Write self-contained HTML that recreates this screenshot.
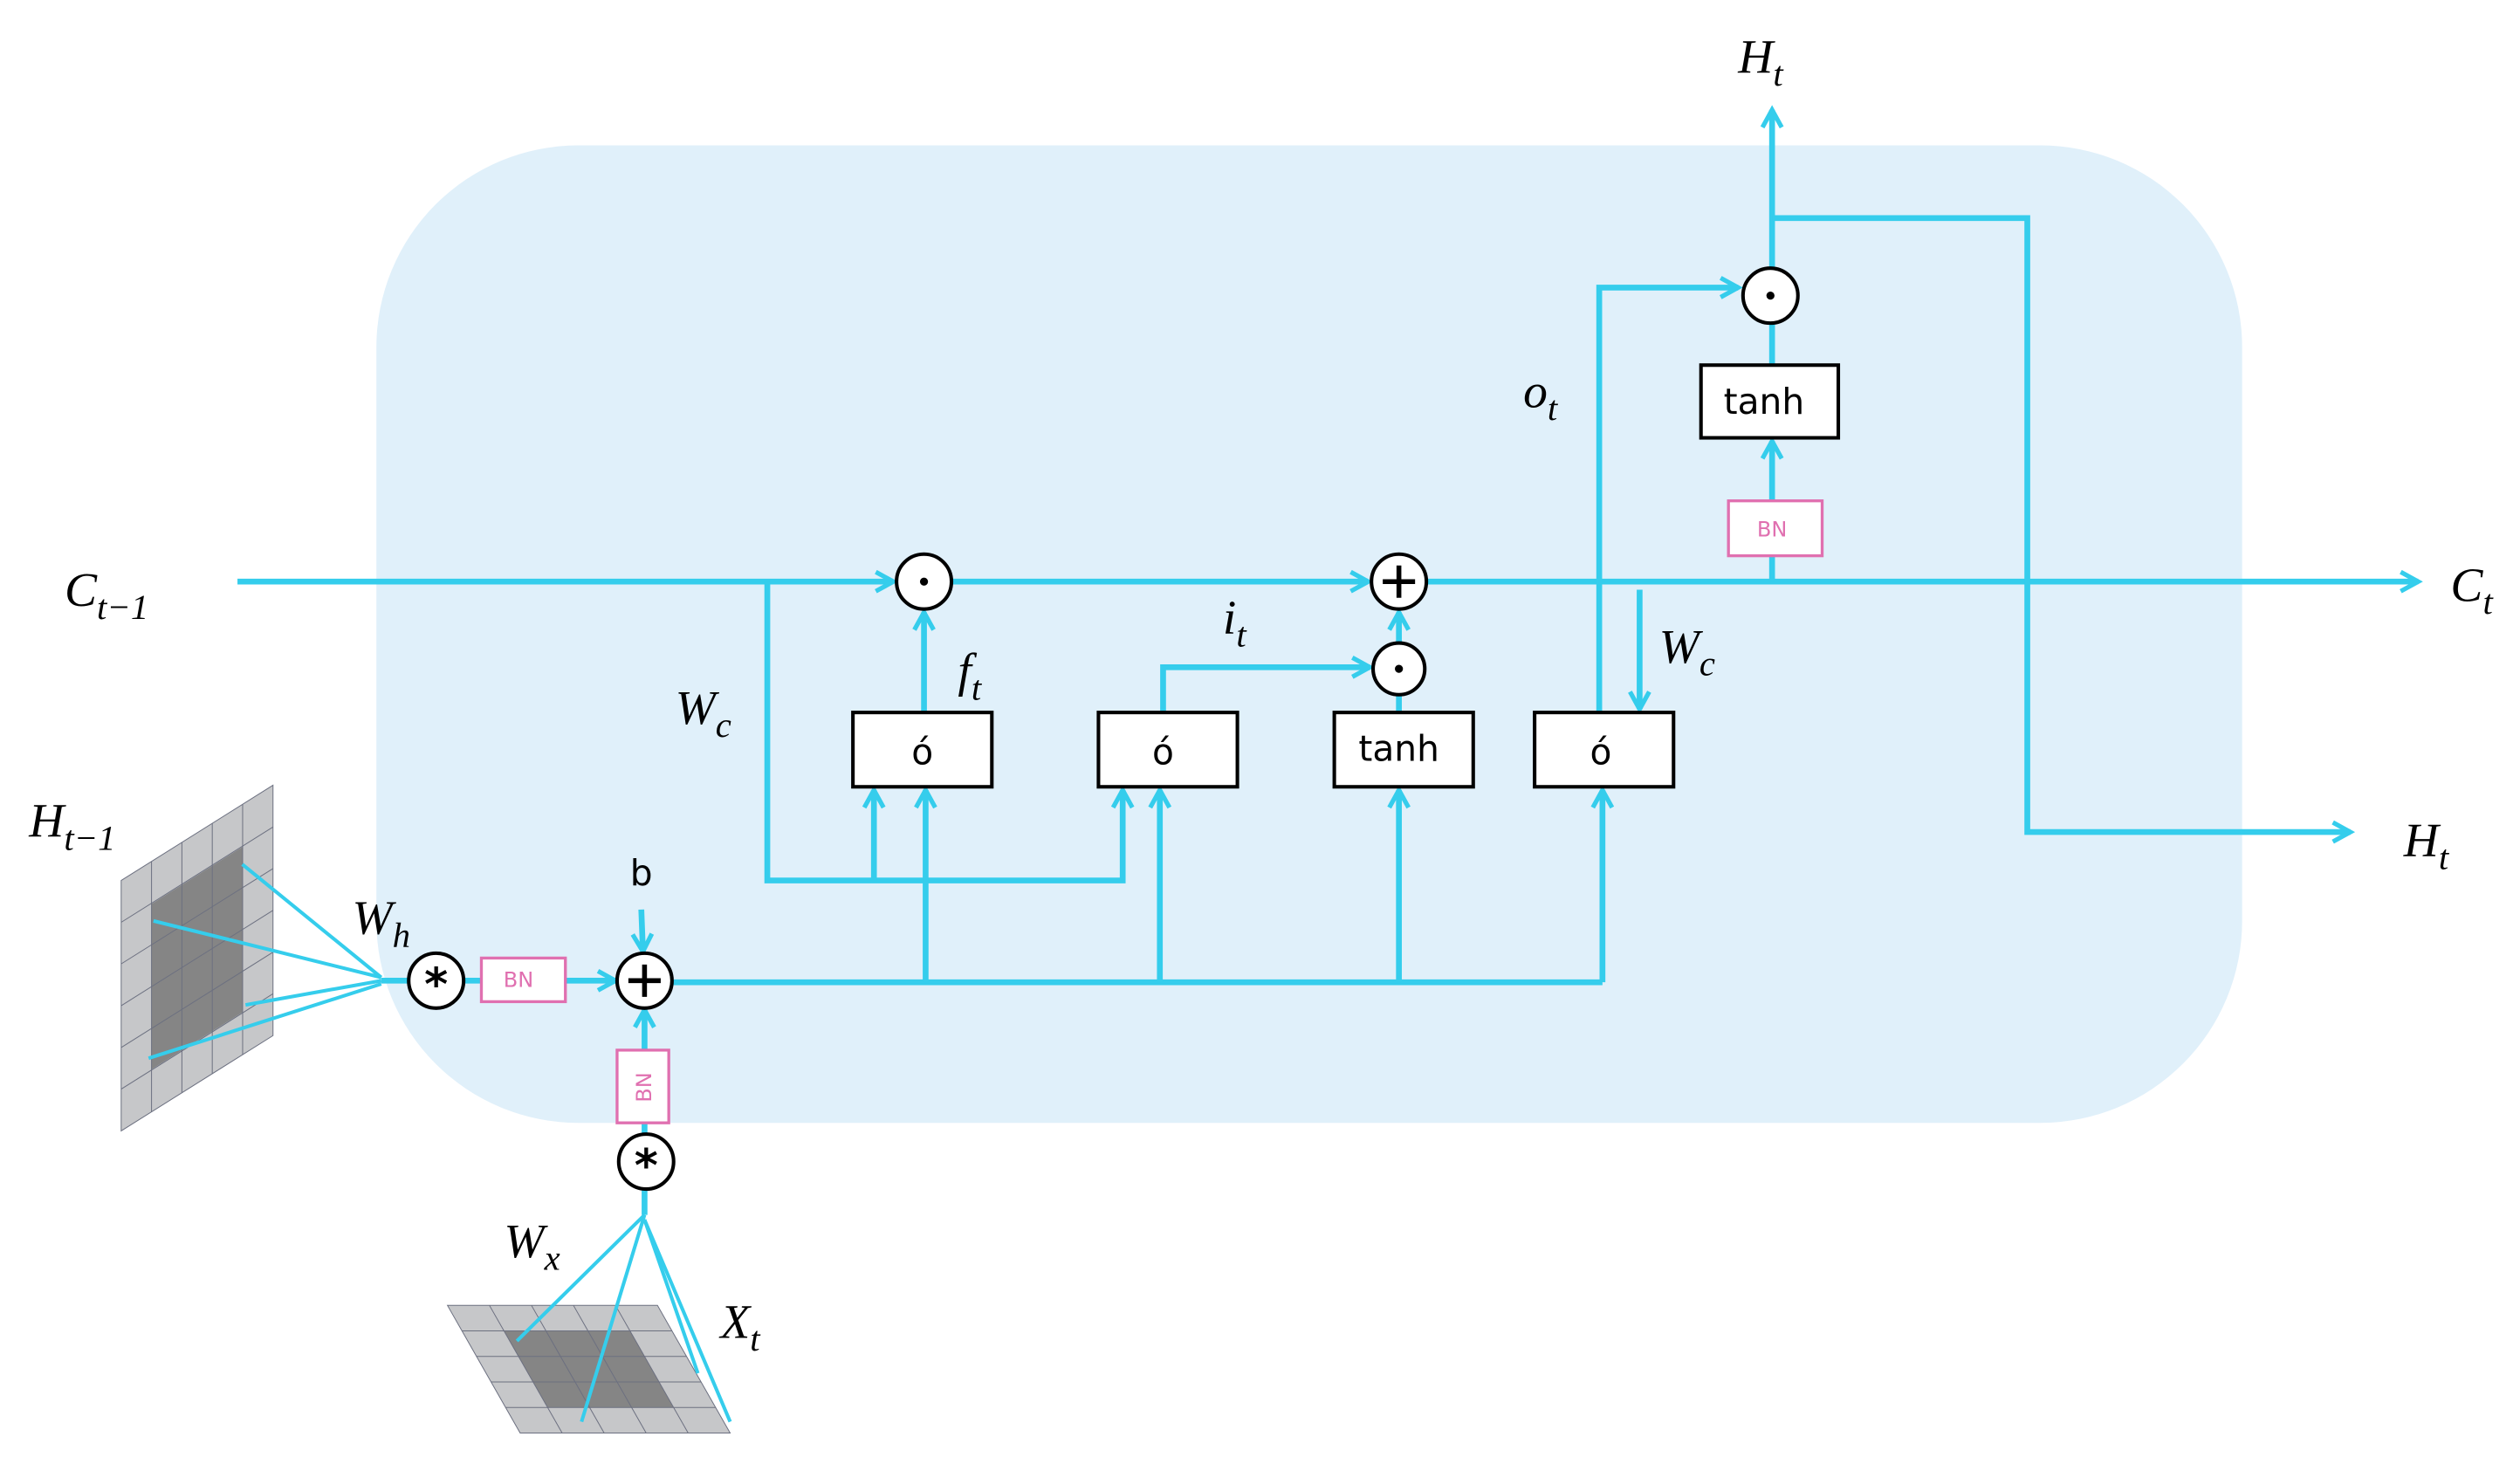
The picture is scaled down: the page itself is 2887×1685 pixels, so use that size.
<!DOCTYPE html>
<html><head><meta charset="utf-8"><style>
html,body{margin:0;padding:0;background:#fff;}
svg{display:block;}
.l{stroke:#35cdec;stroke-width:3.6;fill:none;}
.t{stroke:#35cdec;stroke-width:2.2;fill:none;}
.m{font-family:"Liberation Serif",serif;font-style:italic;font-size:30px;fill:#000;}
.s{font-family:"Liberation Serif",serif;font-style:italic;font-size:22px;fill:#000;}
.bx{fill:#fff;stroke:#000;stroke-width:2.2;}
.bt{font-family:"DejaVu Sans","Liberation Sans",sans-serif;font-size:22px;fill:#000;text-anchor:middle;}
.bn{fill:#fff;stroke:#e070b0;stroke-width:1.8;}
.bnt{font-family:"DejaVu Sans",sans-serif;font-size:13px;fill:#e070b0;text-anchor:middle;}
.c{fill:#fff;stroke:#000;stroke-width:2.2;}
</style></head><body>
<svg width="2887" height="1685" viewBox="0 0 1560 910.5" xmlns="http://www.w3.org/2000/svg">
<defs>
<marker id="a" viewBox="0 0 12 12" refX="11" refY="6" markerWidth="13" markerHeight="13" markerUnits="userSpaceOnUse" orient="auto" overflow="visible">
<path d="M1,0.5 L11,6 L1,11.5" fill="none" stroke="#35cdec" stroke-width="2.6"/>
</marker>
</defs>
<rect x="233" y="90" width="1155" height="605" rx="125" fill="#e0f0fa"/>

<line class="l" x1="147" y1="360" x2="553" y2="360" marker-end="url(#a)"/>
<line class="l" x1="589" y1="360" x2="847" y2="360" marker-end="url(#a)"/>
<line class="l" x1="883" y1="360" x2="1497" y2="360" marker-end="url(#a)"/>

<path class="l" d="M475,360 V545 H695 V489" marker-end="url(#a)"/>
<line class="l" x1="541" y1="545" x2="541" y2="489" marker-end="url(#a)"/>

<line class="l" x1="572" y1="441" x2="572" y2="379" marker-end="url(#a)"/>
<path class="l" d="M720,441 V413 H848" marker-end="url(#a)"/>
<line class="l" x1="866" y1="441" x2="866" y2="430"/>
<line class="l" x1="866" y1="398" x2="866" y2="379" marker-end="url(#a)"/>
<path class="l" d="M990,441 V178 H1076" marker-end="url(#a)"/>
<line class="l" x1="1015" y1="365" x2="1015" y2="439" marker-end="url(#a)"/>
<line class="l" x1="1097" y1="360" x2="1097" y2="273" marker-end="url(#a)"/>
<line class="l" x1="1097" y1="226" x2="1097" y2="200"/>
<line class="l" x1="1097" y1="166" x2="1097" y2="68" marker-end="url(#a)"/>
<path class="l" d="M1097,135 H1255 V515 H1455" marker-end="url(#a)"/>

<line class="l" x1="416" y1="608" x2="992" y2="608"/>
<line class="l" x1="573" y1="608" x2="573" y2="489" marker-end="url(#a)"/>
<line class="l" x1="718" y1="608" x2="718" y2="489" marker-end="url(#a)"/>
<line class="l" x1="866" y1="608" x2="866" y2="489" marker-end="url(#a)"/>
<line class="l" x1="992" y1="608" x2="992" y2="489" marker-end="url(#a)"/>
<line class="l" x1="236" y1="607" x2="253" y2="607"/>
<line class="l" x1="287" y1="607" x2="298" y2="607"/>
<line class="l" x1="350" y1="607" x2="381" y2="607" marker-end="url(#a)"/>
<line class="l" x1="397" y1="563" x2="398" y2="589" marker-end="url(#a)"/>
<line class="l" x1="399" y1="650" x2="399" y2="625" marker-end="url(#a)"/>
<line class="l" x1="399" y1="695" x2="399" y2="702"/>
<line class="l" x1="399" y1="736" x2="399" y2="752"/>

<g transform="matrix(94,-59,0,155,75,545)">
<rect x="0" y="0" width="1" height="1" fill="#c6c7c9" stroke="#6c7080" stroke-width="1" vector-effect="non-scaling-stroke"/>
<rect x="0.2" y="0.17" width="0.6" height="0.66" fill="#858585"/>
<g stroke="#6c7080">
<line x1="0.2" y1="0" x2="0.2" y2="1" vector-effect="non-scaling-stroke"/>
<line x1="0.4" y1="0" x2="0.4" y2="1" vector-effect="non-scaling-stroke"/>
<line x1="0.6" y1="0" x2="0.6" y2="1" vector-effect="non-scaling-stroke"/>
<line x1="0.8" y1="0" x2="0.8" y2="1" vector-effect="non-scaling-stroke"/>
<line x1="0" y1="0.167" x2="1" y2="0.167" vector-effect="non-scaling-stroke"/>
<line x1="0" y1="0.333" x2="1" y2="0.333" vector-effect="non-scaling-stroke"/>
<line x1="0" y1="0.5" x2="1" y2="0.5" vector-effect="non-scaling-stroke"/>
<line x1="0" y1="0.667" x2="1" y2="0.667" vector-effect="non-scaling-stroke"/>
<line x1="0" y1="0.833" x2="1" y2="0.833" vector-effect="non-scaling-stroke"/>
</g></g>
<g class="t">
<line x1="150" y1="535" x2="236" y2="605"/>
<line x1="95" y1="570" x2="236" y2="605"/>
<line x1="152" y1="622" x2="236" y2="607"/>
<line x1="92" y1="655" x2="236" y2="609"/>
</g>

<g transform="matrix(130,0,45,79,277,808)">
<rect x="0" y="0" width="1" height="1" fill="#c6c7c9" stroke="#6c7080" stroke-width="1" vector-effect="non-scaling-stroke"/>
<rect x="0.2" y="0.2" width="0.6" height="0.6" fill="#858585"/>
<g stroke="#6c7080">
<line x1="0.2" y1="0" x2="0.2" y2="1" vector-effect="non-scaling-stroke"/>
<line x1="0.4" y1="0" x2="0.4" y2="1" vector-effect="non-scaling-stroke"/>
<line x1="0.6" y1="0" x2="0.6" y2="1" vector-effect="non-scaling-stroke"/>
<line x1="0.8" y1="0" x2="0.8" y2="1" vector-effect="non-scaling-stroke"/>
<line x1="0" y1="0.2" x2="1" y2="0.2" vector-effect="non-scaling-stroke"/>
<line x1="0" y1="0.4" x2="1" y2="0.4" vector-effect="non-scaling-stroke"/>
<line x1="0" y1="0.6" x2="1" y2="0.6" vector-effect="non-scaling-stroke"/>
<line x1="0" y1="0.8" x2="1" y2="0.8" vector-effect="non-scaling-stroke"/>
</g></g>
<g class="t">
<line x1="399" y1="752" x2="320" y2="830"/>
<line x1="399" y1="752" x2="360" y2="880"/>
<line x1="399" y1="755" x2="432" y2="850"/>
<line x1="399" y1="755" x2="452" y2="880"/>
</g>

<rect class="bx" x="528" y="441" width="86" height="46"/><text class="bt" x="571" y="473">ó</text>
<rect class="bx" x="680" y="441" width="86" height="46"/><text class="bt" x="720" y="473">ó</text>
<rect class="bx" x="826" y="441" width="86" height="46"/><text class="bt" x="866" y="471">tanh</text>
<rect class="bx" x="950" y="441" width="86" height="46"/><text class="bt" x="991" y="473">ó</text>
<rect class="bx" x="1053" y="226" width="85" height="45"/><text class="bt" x="1092" y="256">tanh</text>
<rect class="bn" x="1070" y="310" width="58" height="34"/><text class="bnt" x="1097" y="332">BN</text>
<rect class="bn" x="298" y="593" width="52" height="27"/><text class="bnt" x="321" y="611">BN</text>
<rect class="bn" x="382" y="650" width="32" height="45"/><text class="bnt" transform="translate(403,673) rotate(-90)">BN</text>

<circle class="c" cx="572" cy="360" r="17"/><circle cx="572" cy="360" r="2.5"/>
<circle class="c" cx="866" cy="360" r="17"/><path d="M856,360H876M866,350V370" stroke="#000" stroke-width="3"/>
<circle class="c" cx="866" cy="414" r="16"/><circle cx="866" cy="414" r="2.5"/>
<circle class="c" cx="1096" cy="183" r="17"/><circle cx="1096" cy="183" r="2.5"/>
<circle class="c" cx="399" cy="607" r="17"/><path d="M389,607H409M399,597V617" stroke="#000" stroke-width="3"/>
<circle class="c" cx="270" cy="607" r="17"/><text x="270" y="619" font-family="DejaVu Sans" font-size="28" font-weight="bold" text-anchor="middle">*</text>
<circle class="c" cx="400" cy="719" r="17"/><text x="400" y="731" font-family="DejaVu Sans" font-size="28" font-weight="bold" text-anchor="middle">*</text>

<text class="m" x="40" y="375">C<tspan class="s" dy="8">t−1</tspan></text>
<text class="m" x="1517" y="372">C<tspan class="s" dy="8">t</tspan></text>
<text class="m" x="1076" y="45">H<tspan class="s" dy="8">t</tspan></text>
<text class="m" x="1488" y="530">H<tspan class="s" dy="8">t</tspan></text>
<text class="m" x="18" y="518">H<tspan class="s" dy="8">t−1</tspan></text>
<text class="m" x="418" y="448">W<tspan class="s" dy="8">c</tspan></text>
<text class="m" x="1027" y="410">W<tspan class="s" dy="8">c</tspan></text>
<text class="m" x="593" y="425">f<tspan class="s" dy="8">t</tspan></text>
<text class="m" x="757" y="392">i<tspan class="s" dy="8">t</tspan></text>
<text class="m" x="943" y="252">o<tspan class="s" dy="8">t</tspan></text>
<text class="m" x="218" y="578">W<tspan class="s" dy="8">h</tspan></text>
<text class="m" x="312" y="778">W<tspan class="s" dy="8">x</tspan></text>
<text class="m" x="446" y="828">X<tspan class="s" dy="8">t</tspan></text>
<text x="397" y="548" font-family="DejaVu Sans" font-size="22" text-anchor="middle">b</text>
</svg>
</body></html>
